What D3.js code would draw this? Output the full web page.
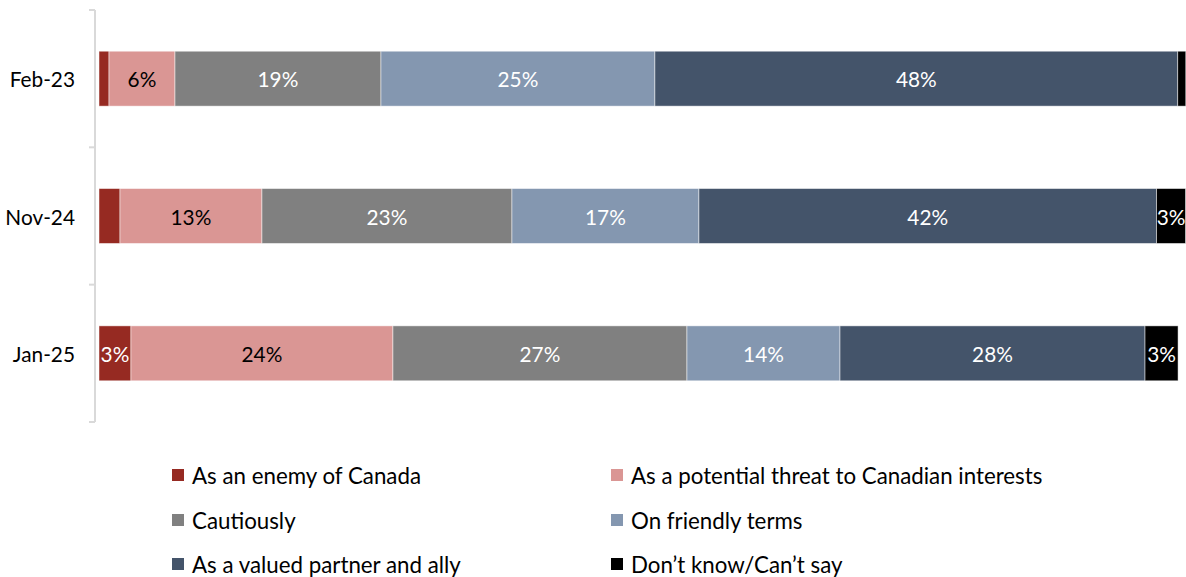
<!DOCTYPE html>
<html>
<head>
<meta charset="utf-8">
<script src="https://cdn.jsdelivr.net/npm/d3@7"></script>
<style>
  html, body { margin: 0; padding: 0; background: #fff; }
  svg { display: block; }
  text { font-family: Lato, "Open Sans", sans-serif; }
</style>
</head>
<body>
<svg id="chart" width="1186" height="577"></svg>
<script>
const categories = ["Feb-23", "Nov-24", "Jan-25"];
const seriesNames = [
  "As an enemy of Canada",
  "As a potential threat to Canadian interests",
  "Cautiously",
  "On friendly terms",
  "As a valued partner and ally",
  "Don\u2019t know/Can\u2019t say"
];
const seriesColors = ["#962A22", "#DA9694", "#808080", "#8497B0", "#44546A", "#000000"];
const labelColors = ["#ffffff", "#000000", "#ffffff", "#ffffff", "#ffffff", "#ffffff"];
// values per category, in series order (percent)
const enemyValues    = [0.92, 1.93, 2.94];
const threatValues   = [6.07, 13.06, 24.1];
const cautiousValues = [18.95, 23.0, 27.05];
const friendlyValues = [25.2, 17.2, 14.08];
const allyValues     = [48.1, 42.1, 28.06];
const dkValues       = [0.74, 2.67, 3.04];
const seriesValues = [enemyValues, threatValues, cautiousValues, friendlyValues, allyValues, dkValues];

const svg = d3.select("#chart");
const x = d3.scaleLinear().domain([0, 100]).range([99, 1186]);
const y = d3.scaleBand().domain(categories).range([10, 422]).paddingInner(0.6).paddingOuter(0.3);

// axis
const ag = svg.append("g").attr("transform", "translate(95,0)");
ag.append("line").attr("x1", 0).attr("x2", 0).attr("y1", 10).attr("y2", 422)
  .attr("stroke", "#d9d9d9").attr("stroke-width", 2);
const bounds = [10].concat(categories.map(c => y(c) + y.bandwidth() / 2 + y.step() / 2));
ag.selectAll("line.tk").data(bounds).enter().append("line").attr("class", "tk")
  .attr("x1", -6).attr("x2", 0).attr("y1", d => d).attr("y2", d => d)
  .attr("stroke", "#d9d9d9").attr("stroke-width", 2);

svg.append("g").selectAll("text").data(categories).enter().append("text")
  .attr("x", 75).attr("y", d => y(d) + y.bandwidth() / 2)
  .attr("text-anchor", "end").attr("dominant-baseline", "central")
  .attr("font-size", 20.8).attr("fill", "#000").text(d => d);

// stacked data
const rows = categories.map((c, i) => {
  const o = { cat: c };
  seriesNames.forEach((s, j) => o[s] = seriesValues[j][i]);
  return o;
});
const stack = d3.stack().keys(seriesNames)(rows);

const gs = svg.append("g").selectAll("g").data(stack).enter().append("g")
  .attr("fill", (d, i) => seriesColors[i]);
gs.selectAll("rect").data(d => d).enter().append("rect")
  .attr("x", d => x(d[0])).attr("width", d => x(d[1]) - x(d[0]))
  .attr("y", d => y(d.data.cat)).attr("height", y.bandwidth())
  .attr("stroke", "#ffffff").attr("stroke-width", 0.8).attr("stroke-opacity", 0.6);

stack.forEach((s, i) => {
  svg.append("g").selectAll("text").data(s.filter(d => d[1] - d[0] >= 2.5)).enter().append("text")
    .attr("x", d => (x(d[0]) + x(d[1])) / 2)
    .attr("y", d => y(d.data.cat) + y.bandwidth() / 2)
    .attr("text-anchor", "middle").attr("dominant-baseline", "central")
    .attr("font-size", 20.8).attr("fill", labelColors[i])
    .text(d => Math.round(d[1] - d[0]) + "%");
});

// legend
const legX = [172, 611];
const legY = [475, 520, 564];
const lg = svg.append("g");
seriesNames.forEach((s, i) => {
  const lx = legX[i % 2], ly = legY[Math.floor(i / 2)];
  lg.append("rect").attr("x", lx).attr("y", ly - 6).attr("width", 12).attr("height", 12)
    .attr("fill", seriesColors[i]);
  lg.append("text").attr("x", lx + 20).attr("y", ly).attr("dominant-baseline", "central")
    .attr("font-size", 22.3).attr("fill", "#000").text(s);
});
</script>
</body>
</html>
